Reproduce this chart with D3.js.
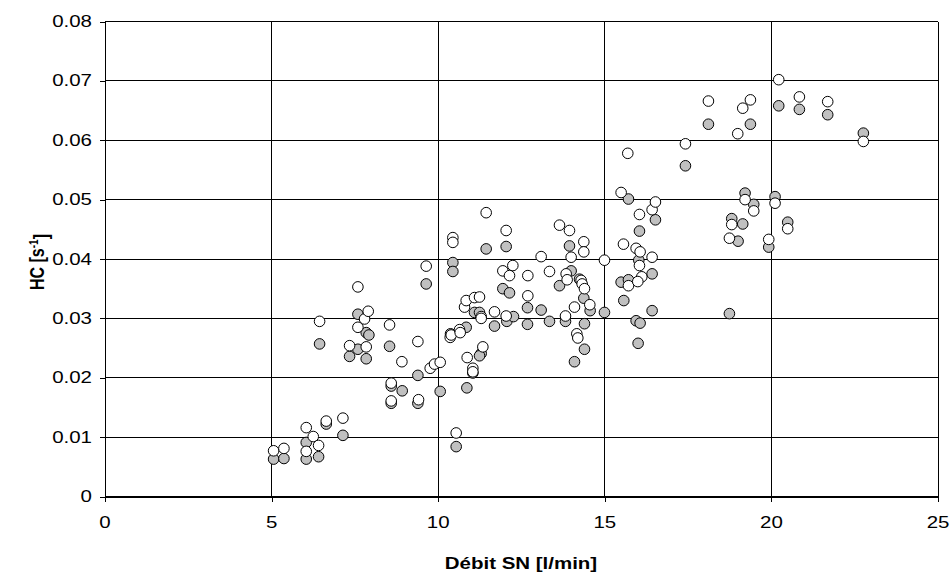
<!DOCTYPE html>
<html>
<head>
<meta charset="utf-8">
<script src="https://cdn.jsdelivr.net/npm/d3@7"></script>
<style>
  body { margin: 0; background: #fff; }
  text { font-family: "Liberation Sans", Arial, sans-serif; fill: #000; }
</style>
</head>
<body>
<svg id="chart" width="952" height="575"></svg>
<script>
// Axis ticks
const xTicks = [0, 5, 10, 15, 20, 25];
const yTicks = [0, 0.01, 0.02, 0.03, 0.04, 0.05, 0.06, 0.07, 0.08];
const xTitle = "Débit SN [l/min]";

// Series 1 (grey markers): flow rate [l/min] and HC [1/s]
const greyDebit = [5.06, 5.37, 6.04, 6.04, 6.41, 6.44, 6.64, 7.14, 7.34, 7.59, 7.59, 7.84, 7.92, 7.84,
  8.54, 8.59, 8.59, 8.92, 9.39, 9.39, 9.64, 10.06, 10.44, 10.44, 10.54, 10.37, 10.84, 10.86, 11.04,
  11.09, 11.24, 11.29, 11.24, 11.44, 11.69, 11.94, 12.14, 12.04, 12.06, 12.26, 12.68, 12.68, 13.09,
  13.34, 13.64, 13.82, 13.94, 13.99, 14.24, 14.37, 14.39, 14.39, 14.09, 14.56, 14.99, 15.49, 15.57,
  15.71, 15.71, 15.94, 16.06, 16.00, 16.02, 16.04, 16.42, 16.42, 16.52, 17.42, 18.11, 18.74, 18.81,
  19.00, 19.14, 19.21, 19.37, 19.47, 19.92, 20.11, 20.22, 20.49, 20.84, 21.69, 22.76];
const greyHC = [0.0063, 0.0064, 0.0091, 0.0063, 0.0067, 0.0257, 0.0122, 0.0103, 0.0236, 0.0307, 0.0248,
  0.0276, 0.0272, 0.0232, 0.0253, 0.0186, 0.0157, 0.0178, 0.0204, 0.0157, 0.0358, 0.0177, 0.0394,
  0.0379, 0.0084, 0.0274, 0.0285, 0.0183, 0.0208, 0.0310, 0.0310, 0.0241, 0.0237, 0.0417, 0.0287,
  0.0350, 0.0343, 0.0421, 0.0295, 0.0303, 0.0318, 0.0290, 0.0314, 0.0295, 0.0355, 0.0295, 0.0422,
  0.0380, 0.0366, 0.0334, 0.0291, 0.0248, 0.0227, 0.0313, 0.0310, 0.0361, 0.0330, 0.0365, 0.0501,
  0.0296, 0.0292, 0.0258, 0.0398, 0.0447, 0.0375, 0.0313, 0.0466, 0.0557, 0.0627, 0.0308, 0.0468,
  0.0430, 0.0459, 0.0511, 0.0627, 0.0492, 0.0420, 0.0505, 0.0658, 0.0462, 0.0652, 0.0643, 0.0612];

// Series 2 (white markers)
const whiteDebit = [5.06, 5.37, 6.04, 6.25, 6.41, 6.04, 6.44, 6.64, 7.14, 7.34, 7.59, 7.59, 7.79, 7.90,
  7.84, 8.54, 8.59, 8.59, 8.91, 9.39, 9.41, 9.64, 9.76, 9.89, 10.06, 10.44, 10.44, 10.36, 10.39,
  10.64, 10.66, 10.54, 10.79, 10.84, 10.87, 11.04, 11.04, 11.09, 11.24, 11.29, 11.29, 11.34, 11.44,
  11.69, 11.94, 12.04, 12.04, 12.14, 12.24, 12.69, 12.69, 13.09, 13.34, 13.64, 13.94, 13.84, 13.87,
  13.99, 14.09, 13.82, 14.16, 14.19, 14.29, 14.32, 14.39, 14.37, 14.37, 14.55, 14.99, 15.49, 15.56,
  15.69, 15.71, 15.94, 16.06, 16.04, 16.04, 16.11, 15.99, 16.42, 16.52, 16.42, 17.42, 18.11, 18.74,
  18.81, 18.99, 19.14, 19.21, 19.37, 19.47, 19.92, 20.11, 20.22, 20.49, 20.84, 21.69, 22.76];
const whiteHC = [0.0077, 0.0081, 0.0116, 0.0101, 0.0086, 0.0076, 0.0295, 0.0127, 0.0132, 0.0254, 0.0353,
  0.0285, 0.0299, 0.0312, 0.0252, 0.0289, 0.0191, 0.0161, 0.0227, 0.0261, 0.0163, 0.0388, 0.0216,
  0.0223, 0.0226, 0.0436, 0.0428, 0.0268, 0.0272, 0.0281, 0.0276, 0.0107, 0.0319, 0.0330, 0.0234,
  0.0216, 0.0210, 0.0335, 0.0336, 0.0303, 0.0300, 0.0252, 0.0478, 0.0311, 0.0380, 0.0448, 0.0304,
  0.0372, 0.0389, 0.0372, 0.0338, 0.0404, 0.0379, 0.0457, 0.0448, 0.0375, 0.0365, 0.0403, 0.0319,
  0.0304, 0.0274, 0.0267, 0.0364, 0.0358, 0.0350, 0.0429, 0.0412, 0.0323, 0.0398, 0.0512, 0.0425,
  0.0578, 0.0355, 0.0418, 0.0412, 0.0475, 0.0389, 0.0370, 0.0362, 0.0483, 0.0496, 0.0403, 0.0594,
  0.0666, 0.0435, 0.0458, 0.0611, 0.0654, 0.0500, 0.0668, 0.0481, 0.0433, 0.0494, 0.0702, 0.0451,
  0.0673, 0.0665, 0.0598];

const svg = d3.select("#chart");
const plot = { left: 105, right: 938, top: 21.5, bottom: 496.5 };

const x = d3.scaleLinear().domain([0, 25]).range([plot.left, plot.right]);
const y = d3.scaleLinear().domain([0, 0.08]).range([plot.bottom, plot.top]);

const fontSize = 16;
const stretch = 1.28;   // labels are drawn a little wide

// Grid
const grid = svg.append("g").attr("shape-rendering", "crispEdges").attr("stroke", "#000").attr("stroke-width", 1);
grid.selectAll("line.h").data(yTicks).join("line")
  .attr("x1", plot.left).attr("x2", plot.right)
  .attr("y1", d => y(d)).attr("y2", d => y(d));
grid.selectAll("line.v").data(xTicks).join("line")
  .attr("x1", d => x(d)).attr("x2", d => x(d))
  .attr("y1", plot.top).attr("y2", plot.bottom);

// Axes (tick marks only; labels drawn separately)
svg.append("g").attr("transform", `translate(0,${plot.bottom})`)
  .attr("shape-rendering", "crispEdges")
  .call(d3.axisBottom(x).tickValues(xTicks).tickSize(5).tickSizeOuter(0).tickFormat(""))
  .call(g => g.selectAll("line,path").attr("stroke", "#000"));
svg.append("g").attr("transform", `translate(${plot.left},0)`)
  .attr("shape-rendering", "crispEdges")
  .call(d3.axisLeft(y).tickValues(yTicks).tickSize(5).tickSizeOuter(0).tickFormat(""))
  .call(g => g.selectAll("line,path").attr("stroke", "#000"));

// Tick labels
svg.append("g").selectAll("text").data(yTicks).join("text")
  .attr("transform", d => `translate(92,${y(d)}) scale(${stretch},1)`)
  .attr("text-anchor", "end").attr("dy", "0.35em")
  .style("font-size", fontSize + "px")
  .text(d => d === 0 ? "0" : d3.format(".2f")(d));

svg.append("g").selectAll("text").data(xTicks).join("text")
  .attr("transform", d => `translate(${x(d)},522) scale(${stretch},1)`)
  .attr("text-anchor", "middle").attr("dy", "0.35em")
  .style("font-size", fontSize + "px")
  .text(d => d);

// Axis titles
svg.append("text")
  .attr("transform", `translate(521,563) scale(${stretch},1)`)
  .attr("text-anchor", "middle").attr("dy", "0.35em")
  .style("font-size", fontSize + "px").style("font-weight", "bold")
  .text(xTitle);

const yt = svg.append("text")
  .attr("transform", `translate(37,262) scale(${stretch},1) rotate(-90)`)
  .attr("text-anchor", "middle").attr("dy", "0.35em")
  .style("font-size", fontSize + "px").style("font-weight", "bold");
yt.append("tspan").text("HC [s");
yt.append("tspan").attr("dy", "-0.45em").style("font-size", "10px").text("-1");
yt.append("tspan").attr("dy", "0.45em").text("]");

// Markers
const grey = d3.zip(greyDebit, greyHC);
const white = d3.zip(whiteDebit, whiteHC);
svg.append("g").selectAll("circle").data(grey).join("circle")
  .attr("cx", d => x(d[0])).attr("cy", d => y(d[1])).attr("r", 5.3)
  .attr("fill", "#c0c0c0").attr("stroke", "#000").attr("stroke-width", 1);
svg.append("g").selectAll("circle").data(white).join("circle")
  .attr("cx", d => x(d[0])).attr("cy", d => y(d[1])).attr("r", 5.3)
  .attr("fill", "#fff").attr("stroke", "#000").attr("stroke-width", 1);
</script>
</body>
</html>
